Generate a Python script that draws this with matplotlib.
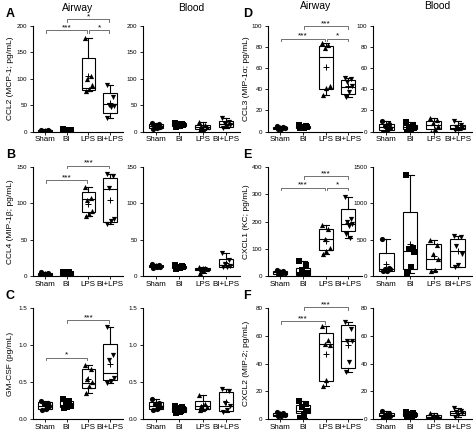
import numpy as np
import matplotlib
matplotlib.use('Agg')
import matplotlib.pyplot as plt

plt.rcParams['font.family'] = ['Liberation Sans', 'DejaVu Sans']

groups = ['Sham', 'BI', 'LPS', 'BI+LPS']
markers = ['o', 's', '^', 'v']

# points per group (Sham, BI, LPS, BI+LPS) and box (q1, median, q3)
A_air_pts = [[3, 2, 1.5, 1, 0.5, 0], [4, 3, 2.5, 2, 1, 0.5],
             [178, 105, 100, 89, 80, 77], [88, 66, 50, 49, 47, 26]]
A_air_box = [(0.5, 1.2, 2), (1, 2, 3), (79, 82, 139), (36, 52, 73)]
A_bld_pts = [[17, 14, 11, 9, 7, 5], [17, 15, 14, 12, 11, 9],
             [18, 12, 10, 8, 5, 3], [25, 18, 15, 13, 10, 7]]
A_bld_box = [(7, 10, 14), (10, 13, 16), (5, 9, 13), (9, 14, 19)]

B_air_pts = [[5, 4, 3, 2, 1.5, 1], [6, 5, 4, 3, 2, 1],
             [123, 107.5, 105, 90, 85.5, 82], [140.6, 137, 121, 79, 75.7, 71.5]]
B_air_box = [(1.5, 2.5, 4), (2, 3.5, 5), (88, 106.5, 115), (75, 120, 135.5)]
B_bld_pts = [[16, 15, 14, 13, 12, 11], [15, 14, 13, 12, 11, 10],
             [12, 11, 10, 9, 8, 4], [32, 22, 16, 14, 13, 12]]
B_bld_box = [(12, 13.5, 15), (11, 12.5, 14), (8, 10, 11), (13, 15, 24)]

C_air_pts = [[0.25, 0.22, 0.2, 0.17, 0.14, 0.12], [0.27, 0.24, 0.2, 0.18, 0.16, 0.15],
             [0.73, 0.68, 0.54, 0.5, 0.44, 0.35], [1.24, 0.86, 0.8, 0.56, 0.52, 0.48]]
C_air_box = [(0.13, 0.18, 0.23), (0.16, 0.19, 0.25), (0.42, 0.48, 0.67), (0.53, 0.62, 1.02)]
C_bld_pts = [[0.27, 0.22, 0.2, 0.16, 0.13, 0.12], [0.18, 0.16, 0.15, 0.13, 0.1, 0.08],
             [0.33, 0.2, 0.18, 0.16, 0.14, 0.12], [0.4, 0.38, 0.22, 0.18, 0.12, 0.1]]
C_bld_box = [(0.13, 0.17, 0.23), (0.1, 0.14, 0.16), (0.14, 0.17, 0.25), (0.11, 0.17, 0.36)]

D_air_pts = [[5, 4, 3.5, 3, 2.5, 2], [6, 5, 4.5, 4, 3.5, 3],
             [84, 82, 79, 43, 41, 35], [51, 50, 47, 43, 37, 33]]
D_air_box = [(2.5, 3, 4), (3.5, 4.2, 5), (40, 71, 81), (35.7, 42.5, 48.6)]
D_bld_pts = [[10, 7, 5, 3, 1, 0], [9, 6, 4, 3, 2, 0],
             [13, 11, 8, 5, 2, 0], [10, 6, 4, 3, 2, 1]]
D_bld_box = [(1, 4, 7), (2, 4, 6), (2, 6, 10), (2, 3.5, 6)]

E_air_pts = [[22, 18, 15, 12, 9, 6], [55, 40, 22, 12, 6, 2],
             [187, 171, 137, 103, 91, 79], [291, 209, 199, 190, 184, 153, 141]]
E_air_box = [(9, 13, 18), (5, 15, 30), (94, 137, 171), (166, 189, 245)]
E_bld_pts = [[510, 110, 100, 90, 75, 70], [1390, 385, 375, 330, 130, 36],
             [497, 429, 300, 240, 81, 70], [551, 530, 407, 300, 145, 120]]
E_bld_box = [(75, 95, 315), (90, 339, 881), (90, 240, 447), (122, 339, 510)]

F_air_pts = [[5, 4, 3.5, 3, 2.5, 2], [13, 11, 9, 6, 3, 1],
             [67, 57, 54, 53, 28, 24], [70, 65, 56, 56, 41, 34]]
F_air_box = [(2.3, 3, 4), (4, 6, 10), (27.5, 53.75, 61.8), (37, 56, 67.75)]
F_bld_pts = [[6, 4, 3, 2.5, 2, 1], [5, 4, 3.5, 3, 2, 1],
             [4, 3, 2, 1.5, 1, 0.5], [8, 6, 5, 4, 3, 1.5]]
F_bld_box = [(2, 3, 4), (2, 3, 4), (1, 1.8, 3), (3, 4, 6)]

# significance brackets: (group i, group j, height, label)
A_sig = [(0, 2, 192, '***'), (2, 3, 192, '*'), (1, 3, 213, '*')]
B_sig = [(0, 2, 132, '***'), (1, 3, 152, '***')]
C_sig = [(0, 2, 0.83, '*'), (1, 3, 1.34, '***')]
D_sig = [(0, 2, 88, '***'), (2, 3, 88, '*'), (1, 3, 100, '***')]
E_sig = [(0, 2, 324, '***'), (2, 3, 324, '*'), (1, 3, 366, '***')]
F_sig = [(0, 2, 70.5, '***'), (1, 3, 80.5, '***')]

W, H = 474, 434
fig = plt.figure(figsize=(W / 100, H / 100), dpi=100)

jitter = np.array([-0.16, 0.12, -0.05, 0.18, 0.03, -0.12, 0.08])


def px_axes(l, t, r, b):
    return fig.add_axes([l / W, 1 - b / H, (r - l) / W, (b - t) / H])


def draw(ax, pts, boxes, ylim, yticks, ylabels, sig=None):
    stats = []
    for p, (q1, med, q3) in zip(pts, boxes):
        stats.append(dict(med=med, q1=q1, q3=q3, whislo=min(p), whishi=max(p),
                          mean=np.mean(p), fliers=[]))
    ax.bxp(stats, positions=[1, 2, 3, 4], widths=0.62, capwidths=0.3,
           showmeans=True, patch_artist=True, manage_ticks=False,
           boxprops=dict(facecolor='white', edgecolor='black', linewidth=0.8),
           medianprops=dict(color='black', linewidth=0.8),
           whiskerprops=dict(linewidth=0.8), capprops=dict(linewidth=0.8),
           meanprops=dict(marker='+', markeredgecolor='black', markersize=4,
                          markeredgewidth=0.7))
    for i, p in enumerate(pts):
        ax.scatter(i + 1 + jitter[:len(p)], p, marker=markers[i], s=14,
                   c='black', linewidths=0, zorder=3)
    ax.set_xlim(0.45, 4.6)
    ax.set_ylim(*ylim)
    ax.set_xticks([1, 2, 3, 4])
    ax.set_xticklabels(groups)
    ax.set_yticks(yticks)
    ax.set_yticklabels(ylabels)
    ax.spines['top'].set_visible(False)
    ax.spines['right'].set_visible(False)
    for s in ['left', 'bottom']:
        ax.spines[s].set_linewidth(0.8)
    ax.tick_params(axis='y', labelsize=4.5, length=2.5, width=0.6, pad=1.5)
    ax.tick_params(axis='x', labelsize=5.8, length=2, width=0.6, pad=1.5)
    if sig:
        d = 0.025 * (ylim[1] - ylim[0])
        for i, j, y, lab in sig:
            x1, x2 = i + 1 + 0.04, j + 1 - 0.04
            ax.plot([x1, x1, x2, x2], [y - d, y, y, y - d], color='0.35',
                    lw=0.6, clip_on=False)
            ax.text((x1 + x2) / 2, y - 0.01 * (ylim[1] - ylim[0]), lab,
                    ha='center', va='bottom', fontsize=6, clip_on=False)


rows = [(26, 131.5), (167, 276), (308, 419)]
cols_left = [(33, 123), (143, 240)]
cols_right = [(268, 362), (373, 472)]

panels_left = [
    ('A', 'CCL2 (MCP-1; pg/mL)', A_air_pts, A_air_box, A_bld_pts, A_bld_box,
     (0, 200), [0, 50, 100, 150, 200], ['0', '50', '100', '150', '200'], None, A_sig),
    ('B', 'CCL4 (MIP-1β; pg/mL)', B_air_pts, B_air_box, B_bld_pts, B_bld_box,
     (0, 150), [0, 50, 100, 150], ['0', '50', '100', '150'], None, B_sig),
    ('C', 'GM-CSF (pg/mL)', C_air_pts, C_air_box, C_bld_pts, C_bld_box,
     (0, 1.5), [0, 0.5, 1.0, 1.5], ['0.0', '0.5', '1.0', '1.5'], None, C_sig),
]
panels_right = [
    ('D', 'CCL3 (MIP-1α; pg/mL)', D_air_pts, D_air_box, D_bld_pts, D_bld_box,
     (0, 100), [0, 20, 40, 60, 80, 100], ['0', '20', '40', '60', '80', '100'], None, D_sig),
    ('E', 'CXCL1 (KC; pg/mL)', E_air_pts, E_air_box, E_bld_pts, E_bld_box,
     (0, 400), [0, 100, 200, 300, 400], ['0', '100', '200', '300', '400'],
     ((0, 1500), [0, 500, 1000, 1500], ['0', '500', '1000', '1500']), E_sig),
    ('F', 'CXCL2 (MIP-2; pg/mL)', F_air_pts, F_air_box, F_bld_pts, F_bld_box,
     (0, 80), [0, 20, 40, 60, 80], ['0', '20', '40', '60', '80'], None, F_sig),
]

for cols, panels, letter_x, ylab_x in [(cols_left, panels_left, 6, 11),
                                        (cols_right, panels_right, 243, 246)]:
    for (top, bot), pan in zip(rows, panels):
        letter, ylab, ap, ab, bp, bb, ylim, yt, ytl, bld_scale, sig = pan
        ax1 = px_axes(cols[0][0], top, cols[0][1], bot)
        draw(ax1, ap, ab, ylim, yt, ytl, sig)
        ax2 = px_axes(cols[1][0], top, cols[1][1], bot)
        if bld_scale:
            draw(ax2, bp, bb, *bld_scale)
        else:
            draw(ax2, bp, bb, ylim, yt, ytl)
        fig.text(letter_x / W, 1 - (top - 12) / H, letter, fontsize=9,
                 fontweight='bold', ha='left', va='center')
        fig.text(ylab_x / W, 1 - ((top + bot) / 2) / H, ylab, fontsize=6,
                 rotation=90, ha='center', va='center')

fig.text(78 / W, 1 - 8 / H, 'Airway', fontsize=7.5, ha='center', va='center')
fig.text(191 / W, 1 - 8 / H, 'Blood', fontsize=7.5, ha='center', va='center')
fig.text(316 / W, 1 - 6 / H, 'Airway', fontsize=7.5, ha='center', va='center')
fig.text(437 / W, 1 - 6 / H, 'Blood', fontsize=7.5, ha='center', va='center')

fig.savefig('out.png', dpi=100)
